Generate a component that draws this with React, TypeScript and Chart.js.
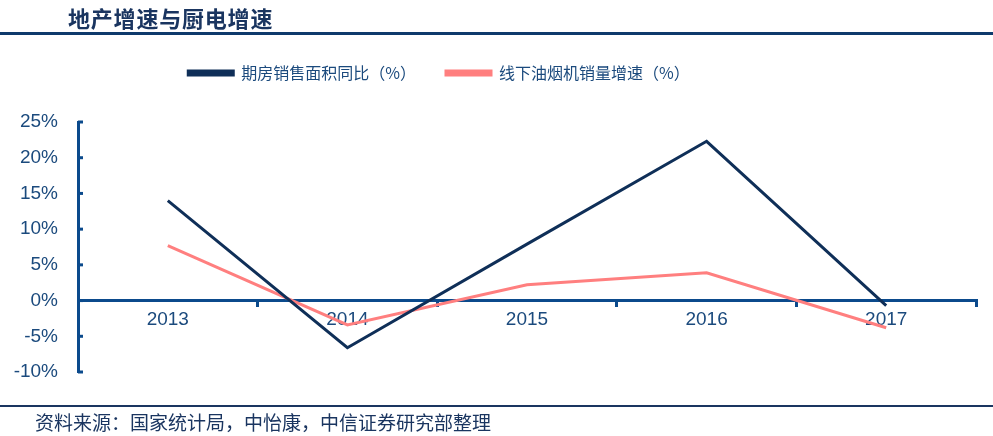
import React, { useEffect, useRef } from "react";
import { Chart, registerables } from "chart.js";

Chart.register(...registerables);

const categories = ["2013", "2014", "2015", "2016", "2017"];
const housingSales = [14.0, -6.6, 7.9, 22.3, -0.7];
const hoodSales = [7.7, -3.4, 2.2, 3.9, -3.8];
const seriesNames = ["期房销售面积同比（%）", "线下油烟机销量增速（%）"];
const yTicks = [-10, -5, 0, 5, 10, 15, 20, 25];

const AXIS = "#0B4A8C";
const TEXT = "#1B4A7D";
const DARK = "#0F2F58";
const PINK = "#FF7F7F";
const FONT = "'Liberation Sans', Arial, 'Noto Sans CJK SC', sans-serif";
const CJK = "'Noto Sans CJK SC', 'Liberation Sans', sans-serif";

const innerTicks = {
  id: "innerTicks",
  afterDraw(chart: any) {
    const y = chart.scales.y;
    const ctx = chart.ctx;
    ctx.save();
    ctx.strokeStyle = AXIS;
    ctx.lineWidth = 3;
    y.ticks.forEach((t: any) => {
      const py = y.getPixelForValue(t.value);
      ctx.beginPath();
      ctx.moveTo(y.right, py);
      ctx.lineTo(y.right + 5, py);
      ctx.stroke();
    });
    ctx.restore();
  },
};

const LEGEND_UP = 31;
const legendShift = {
  id: "legendShift",
  afterLayout(chart: any) {
    const l = chart.legend;
    if (l) {
      l.right = l.right - 98;
      l.top = l.top - LEGEND_UP;
      l.bottom = l.bottom - LEGEND_UP;
    }
  },
};

export default function App() {
  const ref = useRef<HTMLCanvasElement | null>(null);
  useEffect(() => {
    if (!ref.current) return;
    const chart = new Chart(ref.current, {
      type: "line",
      data: {
        labels: categories,
        datasets: [
          {
            label: seriesNames[0],
            data: housingSales,
            borderColor: DARK,
            backgroundColor: DARK,
            borderWidth: 3,
            pointRadius: 0,
            tension: 0,
          },
          {
            label: seriesNames[1],
            data: hoodSales,
            borderColor: PINK,
            backgroundColor: PINK,
            borderWidth: 3,
            pointRadius: 0,
            tension: 0,
          },
        ],
      },
      options: {
        animation: false,
        responsive: false,
        devicePixelRatio: 1,
        layout: { padding: { left: 0, right: 17, top: 35 + LEGEND_UP, bottom: 64 } },
        plugins: {
          legend: {
            position: "top",
            labels: {
              boxWidth: 45,
              boxHeight: 4,
              padding: 30,
              color: TEXT,
              font: { family: CJK, size: 16 },
            },
          },
          tooltip: { enabled: false },
        },
        scales: {
          x: {
            type: "category",
            position: { y: 0 } as any,
            offset: true,
            grid: {
              display: true,
              drawOnChartArea: false,
              drawTicks: true,
              tickLength: 5,
              lineWidth: 3,
              color: AXIS,
              offset: true,
            },
            border: { display: true, color: AXIS, width: 3 },
            ticks: { color: TEXT, font: { family: FONT, size: 19 }, padding: 3, maxRotation: 0 },
          },
          y: {
            min: -10,
            max: 25,
            afterBuildTicks: (s: any) => {
              s.ticks = yTicks.map((v) => ({ value: v }));
            },
            afterFit: (s: any) => {
              s.width = 78;
            },
            grid: { display: false, drawTicks: false },
            border: { display: true, color: AXIS, width: 3 },
            ticks: {
              color: TEXT,
              font: { family: FONT, size: 19 },
              padding: 20,
              callback: (v: any) => `${v}%`,
            },
          },
        },
      },
      plugins: [innerTicks, legendShift],
    });
    return () => chart.destroy();
  }, []);

  return (
    <div style={{ position: "absolute", left: 0, top: 0, width: 993, height: 436, background: "#fff", overflow: "hidden" }}>
      <canvas ref={ref} width={993} height={436} style={{ position: "absolute", left: 0, top: 0, width: 993, height: 436 }} />
      <div
        style={{
          position: "absolute",
          left: 68,
          top: 3,
          fontFamily: CJK,
          fontWeight: 700,
          fontSize: 22,
          letterSpacing: 0.8,
          color: "#1A3560",
          lineHeight: "28px",
          whiteSpace: "nowrap",
        }}
      >
        地产增速与厨电增速
      </div>
      <div style={{ position: "absolute", left: 0, top: 32, width: 993, height: 3, background: "#0E3A6C" }} />
      <div style={{ position: "absolute", left: 0, top: 405, width: 993, height: 2, background: "#1A3560" }} />
      <div
        style={{
          position: "absolute",
          left: 35,
          top: 409,
          fontFamily: CJK,
          fontSize: 19,
          color: "#1A3560",
          lineHeight: "26px",
          whiteSpace: "nowrap",
        }}
      >
        资料来源：国家统计局，中怡康，中信证券研究部整理
      </div>
    </div>
  );
}
